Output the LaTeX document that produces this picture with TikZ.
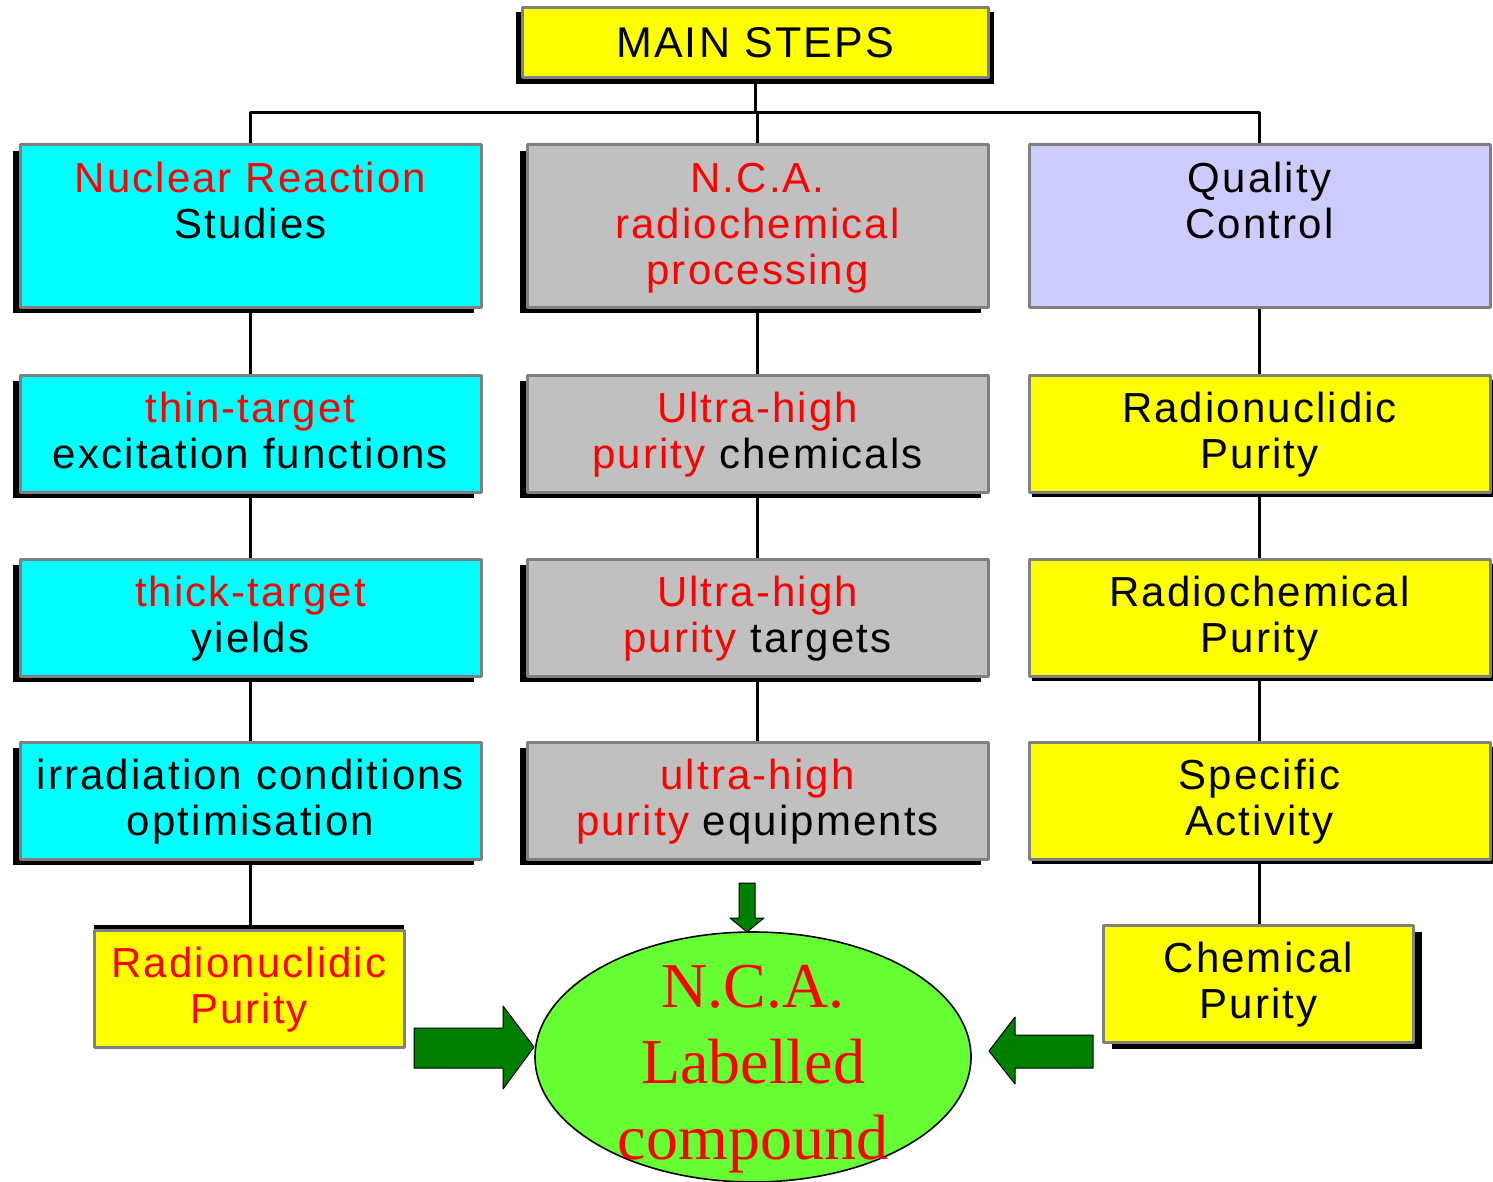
\documentclass[tikz,border=0pt]{standalone}
\usepackage{fontspec}
\setmainfont{Liberation Sans}[LetterSpace=5]
\newfontfamily\ovalfont{Liberation Serif}
\usetikzlibrary{shadows,shapes.geometric}
\definecolor{nrcyan}{HTML}{00FFFF}
\definecolor{ncagray}{HTML}{C0C0C0}
\definecolor{qclav}{HTML}{CCCCFF}
\definecolor{qcyellow}{HTML}{FFFF00}
\definecolor{edgegray}{HTML}{808080}
\definecolor{ovalgreen}{HTML}{66FF33}
\definecolor{arrgreen}{HTML}{008000}
\newcommand{\rd}[1]{\textcolor{red}{#1}}
\newcommand{\lstrut}{\rule[-5.6pt]{0pt}{23pt}}
\newcommand{\toplines}[1]{\parbox[c][67.8pt][t]{225pt}{\centering #1}}
\begin{document}
\begin{tikzpicture}[x=0.5pt,y=-0.5pt,line join=round,
	every node/.style={font=\fontsize{21}{23}\selectfont,inner sep=0pt},
	stepbox/.style={rectangle,draw=edgegray,line width=1.5pt,minimum width=230.5pt,minimum height=58.5pt,align=center},
	headbox/.style={stepbox,minimum height=81pt},
	smallbox/.style={stepbox,minimum width=155pt},
	lshadow/.style={drop shadow={shadow xshift=-3.5pt,shadow yshift=-3.2pt,opacity=1,fill=black}},
	rshadow/.style={drop shadow={shadow xshift=1.5pt,shadow yshift=-2.5pt,opacity=1,fill=black}},
	link/.style={line width=1.5pt},
	fatarrow/.style={fill=arrgreen,draw=black,line width=0.5pt}]
	\useasboundingbox (0,0) rectangle (1493,1182);
	% title
	\node[stepbox,fill=qcyellow,minimum width=233pt,minimum height=35pt,font=\fontsize{21.5}{23}\selectfont,
		drop shadow={shadow xshift=0pt,shadow yshift=-2.3pt,shadow scale=1.025,opacity=1,fill=black}] (main) at (755,43) {MAIN STEPS};
	% left column
	\node[headbox,fill=nrcyan,lshadow] (nrs) at (250.5,226) {\toplines{\lstrut\rd{Nuclear Reaction}\\\lstrut Studies}};
	\node[stepbox,fill=nrcyan,lshadow] (thin) at (250.5,433.5) {\lstrut\rd{thin-target}\\\lstrut excitation functions};
	\node[stepbox,fill=nrcyan,lshadow] (thick) at (250.5,617.5) {\lstrut\rd{thick-target}\\\lstrut yields};
	\node[stepbox,fill=nrcyan,lshadow] (irr) at (250.5,800.5) {\lstrut irradiation conditions\\\lstrut optimisation};
	\node[smallbox,fill=qcyellow,drop shadow={shadow xshift=0pt,shadow yshift=2.5pt,opacity=1,fill=black}] (rnp) at (249,988.5) {\lstrut\rd{Radionuclidic}\\\lstrut\rd{Purity}};
	% middle column
	\node[headbox,fill=ncagray,lshadow] (nca) at (757.5,226) {\toplines{\lstrut\rd{N.C.A.}\\\lstrut\rd{radiochemical}\\\lstrut\rd{processing}}};
	\node[stepbox,fill=ncagray,lshadow] (chem) at (757.5,433.5) {\lstrut\rd{Ultra-high}\\\lstrut\rd{purity} chemicals};
	\node[stepbox,fill=ncagray,lshadow] (targ) at (757.5,617.5) {\lstrut\rd{Ultra-high}\\\lstrut\rd{purity} targets};
	\node[stepbox,fill=ncagray,lshadow] (equip) at (757.5,800.5) {\lstrut\rd{ultra-high}\\\lstrut\rd{purity} equipments};
	% right column
	\node[headbox,fill=qclav] (qc) at (1259.5,226) {\toplines{\lstrut Quality\\\lstrut Control}};
	\node[stepbox,fill=qcyellow,rshadow] (radnuc) at (1259.5,433.5) {\lstrut Radionuclidic\\\lstrut Purity};
	\node[stepbox,fill=qcyellow,rshadow] (radchem) at (1259.5,617.5) {\lstrut Radiochemical\\\lstrut Purity};
	\node[stepbox,fill=qcyellow,rshadow] (spec) at (1259.5,800.5) {\lstrut Specific\\\lstrut Activity};
	\node[smallbox,fill=qcyellow,drop shadow={shadow xshift=4pt,shadow yshift=-3pt,opacity=1,fill=black}] (chp) at (1258.5,984) {\lstrut Chemical\\\lstrut Purity};
	% labelled compound
	\node[ellipse,draw=black,line width=0.8pt,fill=ovalgreen,minimum width=218pt,minimum height=125pt] (lab) at (753,1057) {};
	\node[font=\ovalfont\fontsize{32}{38}\selectfont,text=red,align=center] (labtxt) at (753,1068) {\strut N.C.A.\\\strut Labelled\\\strut compound};
	% tree lines
	\coordinate (split) at (755,113);
	\draw[link] (main.south) -- (split);
	\draw[link] (split) -| (nrs.north);
	\draw[link] (split) -| (nca.north);
	\draw[link] (split) -| (qc.north);
	\draw[link] (nrs) -- (thin);
	\draw[link] (thin) -- (thick);
	\draw[link] (thick) -- (irr);
	\draw[link] (irr.south) -- (irr.south |- rnp.north);
	\draw[link] (nca) -- (chem);
	\draw[link] (chem) -- (targ);
	\draw[link] (targ) -- (equip);
	\draw[link] (qc) -- (radnuc);
	\draw[link] (radnuc) -- (radchem);
	\draw[link] (radchem) -- (spec);
	\draw[link] (spec.south) -- (spec.south |- chp.north);
	% block arrows
	\draw[fatarrow] (739,883) -- (755,883) -- (755,918) -- (764,918) -- (747,932) -- (730,918) -- (739,918) -- cycle;
	\draw[fatarrow] (414,1028) -- (503,1028) -- (503,1006) -- (534,1047) -- (503,1089) -- (503,1068) -- (414,1068) -- cycle;
	\draw[fatarrow] (1093,1035) -- (1015,1035) -- (1015,1017) -- (989,1051) -- (1015,1084) -- (1015,1068) -- (1093,1068) -- cycle;
\end{tikzpicture}
\end{document}
